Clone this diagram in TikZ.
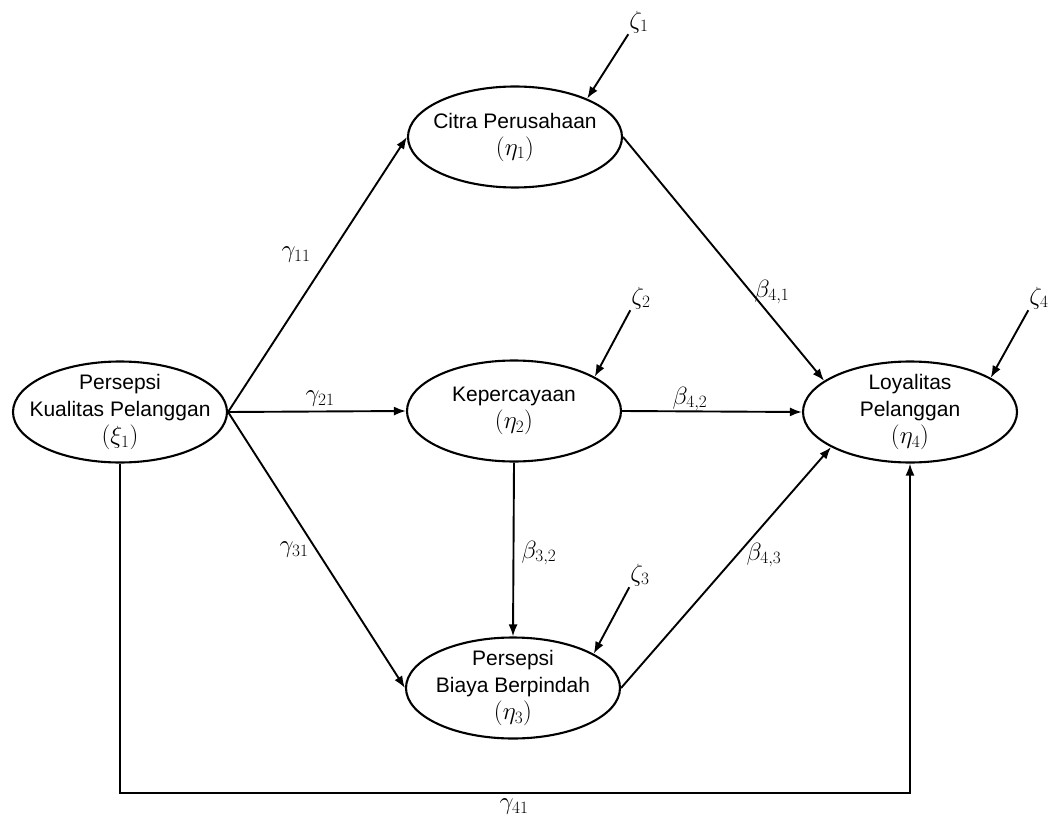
\documentclass[tikz,border=0pt]{standalone}
\usepackage{fontspec}
\setmainfont{Liberation Sans}
\usetikzlibrary{shapes.geometric,arrows.meta,calc}
\newcommand{\lv}[1]{{\fontsize{24}{27}\selectfont$(#1)$}}
\begin{document}
\begin{tikzpicture}[x=1pt,y=-1pt,
  latent/.style={draw,ellipse,line width=2.1pt,inner xsep=-40pt,inner ysep=-20pt,
    minimum width=214pt,minimum height=101pt,align=center,
    font=\fontsize{21}{27}\selectfont},
  link/.style={line width=1.9pt,-{Latex[length=12pt,width=9pt]}},
  coef/.style={font=\fontsize{27}{30}\selectfont,inner sep=1pt},
  err/.style={font=\fontsize{25}{28}\selectfont,inner sep=1pt}]
\useasboundingbox (0,0) rectangle (1051,818);

% latent variables
\node[latent] (pk) at (120,412) {Persepsi\\Kualitas Pelanggan\\\lv{\xi_1}};
\node[latent] (cp) at (515,137) {Citra Perusahaan\\\lv{\eta_1}};
\node[latent] (kp) at (514,411) {Kepercayaan\\\lv{\eta_2}};
\node[latent] (lp) at (910,412) {Loyalitas\\Pelanggan\\\lv{\eta_4}};
\node[latent] (bb) at (513,688) {Persepsi\\Biaya Berpindah\\\lv{\eta_3}};

% structural paths
\draw[link] (pk.east) -- (cp.west);
\draw[link] (pk.east) -- (kp.west);
\draw[link] (pk.east) -- (bb.west);
\draw[link] (cp.east) -- (lp.160);
\draw[link] (kp.east) -- (lp.west);
\draw[link] (bb.east) -- (lp.204);
\draw[link] (kp.south) -- (bb.north);
\coordinate (base) at (0,793);
\draw[link] (pk.south) -- (pk.south |- base) -| (lp.south);

% path coefficients
\node[coef] (g11) at (296,255) {$\gamma_{11}$};
\node[coef] (g21) at (320,399) {$\gamma_{21}$};
\node[coef] (g31) at (294,550) {$\gamma_{31}$};
\node[coef] (g41) at (514,807) {$\gamma_{41}$};
\node[coef] (b41) at (772,292) {$\beta_{4,1}$};
\node[coef] (b42) at (690,399) {$\beta_{4,2}$};
\node[coef] (b32) at (539,553) {$\beta_{3,2}$};
\node[coef] (b43) at (764,555) {$\beta_{4,3}$};

% disturbance terms
\node[err] (z1) at (639,22) {$\zeta_1$};
\node[err] (z2) at (641,298) {$\zeta_2$};
\node[err] (z3) at (640,575) {$\zeta_3$};
\node[err] (z4) at (1039,298) {$\zeta_4$};
\draw[link] (z1.south west) -- (cp.28);
\draw[link] (z2.south west) -- (kp.23);
\draw[link] (z3.south west) -- (bb.23);
\draw[link] (z4.south west) -- (lp.23);
\end{tikzpicture}
\end{document}
